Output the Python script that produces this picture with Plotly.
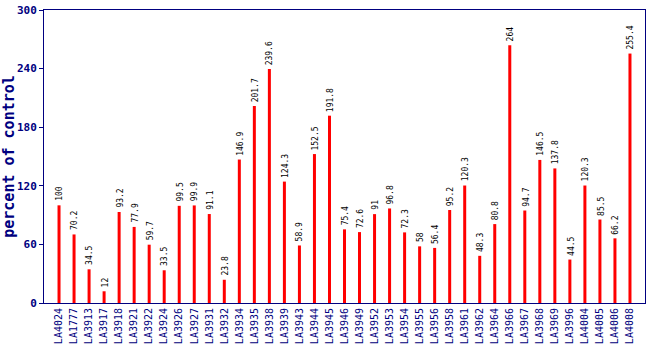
import plotly.graph_objects as go

accessions = ["LA4024", "LA1777", "LA3913", "LA3917", "LA3918", "LA3921", "LA3922", "LA3924",
              "LA3926", "LA3927", "LA3931", "LA3932", "LA3934", "LA3935", "LA3938", "LA3939",
              "LA3943", "LA3944", "LA3945", "LA3946", "LA3949", "LA3952", "LA3953", "LA3954",
              "LA3955", "LA3956", "LA3958", "LA3961", "LA3962", "LA3964", "LA3966", "LA3967",
              "LA3968", "LA3969", "LA3996", "LA4004", "LA4005", "LA4006", "LA4008"]
percent = [100, 70.2, 34.5, 12, 93.2, 77.9, 59.7, 33.5,
           99.5, 99.9, 91.1, 23.8, 146.9, 201.7, 239.6, 124.3,
           58.9, 152.5, 191.8, 75.4, 72.6, 91, 96.8, 72.3,
           58, 56.4, 95.2, 120.3, 48.3, 80.8, 264, 94.7,
           146.5, 137.8, 44.5, 120.3, 85.5, 66.2, 255.4]
y_ticks = [0, 60, 120, 180, 240, 300]

navy = "#000080"
mono = "DejaVu Sans Mono, Liberation Mono, monospace"
xpos = list(range(len(accessions)))

fig = go.Figure(go.Bar(
    x=xpos,
    y=percent,
    width=0.2,
    marker=dict(color="#ff0000", line=dict(width=0)),
    hoverinfo="x+y",
))

# value labels, rotated, just above each bar
for xi, v in zip(xpos, percent):
    fig.add_annotation(
        x=xi, y=v, xref="x", yref="y",
        text=f"{v:g}", textangle=-90, showarrow=False,
        xanchor="center", yanchor="bottom", yshift=2, xshift=1,
        font=dict(family=mono, size=8, color="#000000"),
    )

fig.update_layout(
    width=650, height=350,
    margin=dict(l=44, r=5, t=10, b=47),
    plot_bgcolor="#ffffff", paper_bgcolor="#ffffff",
    showlegend=False,
)
fig.update_xaxes(
    range=[-1, len(accessions)],
    tickmode="array",
    tickvals=xpos,
    ticktext=accessions,
    tickangle=-90,
    tickfont=dict(family=mono, size=10, color=navy),
    showline=True, linecolor=navy, linewidth=1, mirror=True,
    showgrid=False, zeroline=False, ticks="",
    automargin=False,
)
fig.update_yaxes(
    range=[0, 300],
    tickmode="array",
    tickvals=y_ticks,
    tickfont=dict(family=mono, size=11, color=navy, weight="bold"),
    ticks="outside", ticklen=4, tickcolor=navy,
    showline=True, linecolor=navy, linewidth=1, mirror=True,
    showgrid=False, zeroline=False,
    automargin=False,
    title=dict(text="percent of control", font=dict(family=mono, size=15, color=navy, weight="bold"), standoff=6),
)

fig.write_html("out.html")
